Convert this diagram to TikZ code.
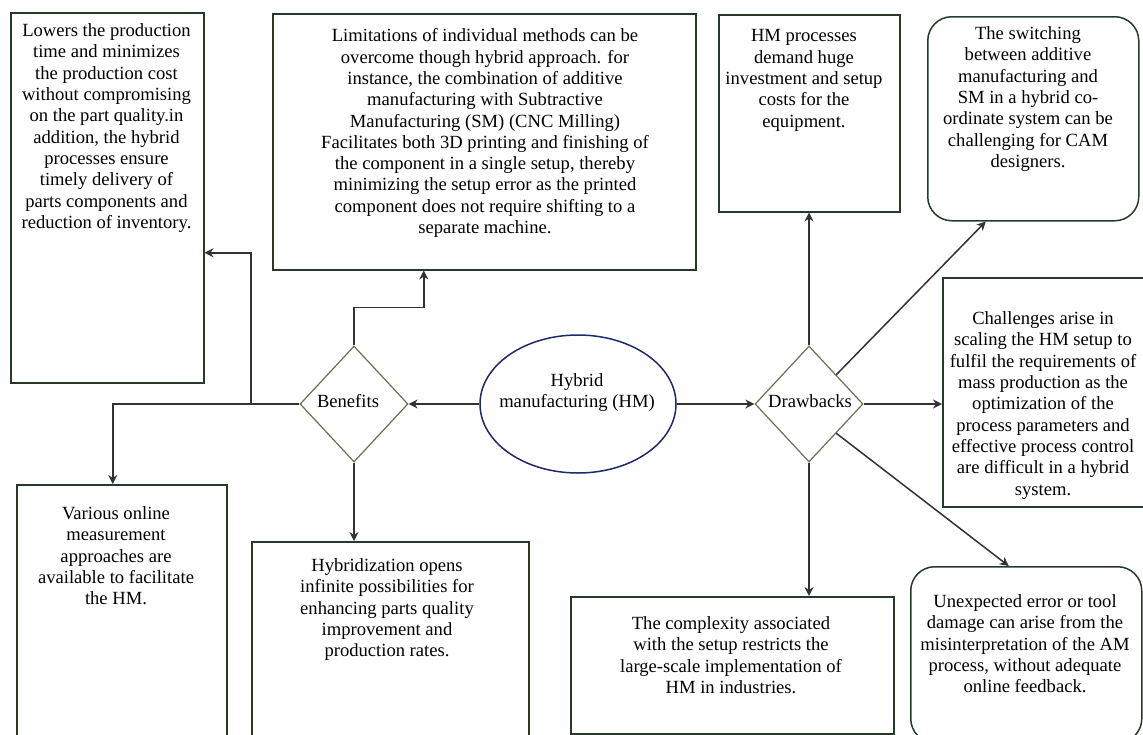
\documentclass[tikz,border=0pt]{standalone}
\usepackage{fontspec}
\setmainfont{Liberation Serif}
\usetikzlibrary{shapes.geometric,arrows.meta,calc}
\definecolor{boxline}{RGB}{38,58,42}
\definecolor{diaml}{RGB}{110,110,80}
\definecolor{ellline}{RGB}{30,40,110}
\definecolor{conn}{RGB}{50,50,50}

\begin{document}
\begin{tikzpicture}[x=1pt,y=-1pt,
  panel/.style={draw=boxline, line width=1.5pt, rectangle, anchor=north west, inner sep=0pt},
  roundpanel/.style={panel, rounded corners=24pt},
  body/.style={anchor=north, inner sep=0pt, align=center, font=\fontsize{18.6}{21.3}\selectfont},
  decision/.style={diamond, draw=diaml, line width=1.2pt, minimum width=108pt, minimum height=116pt, inner sep=0pt},
  arr/.style={draw=conn, line width=1.5pt, -{Stealth[length=9pt,width=9pt]}},
  link/.style={draw=conn, line width=1.5pt},
]
\useasboundingbox (0,0) rectangle (1143,734);
\clip (0,0) rectangle (1143,734);

% outer panels
\node[panel, minimum width=193pt, minimum height=370pt] (A) at (10,12) {};
\node[panel, minimum width=423pt, minimum height=256pt] (B) at (272,13) {};
\node[panel, minimum width=181pt, minimum height=197pt] (C) at (718,14) {};
\node[roundpanel, minimum width=211pt, minimum height=204pt] (D) at (927,16) {};
\node[panel, minimum width=203pt, minimum height=229pt] (E) at (942,277) {};
\node[panel, minimum width=210pt, minimum height=270pt] (F) at (16,484) {};
\node[panel, minimum width=277pt, minimum height=210pt] (G) at (251,541) {};
\node[panel, minimum width=323pt, minimum height=137pt] (H) at (570,596) {};
\node[roundpanel, minimum width=231pt, minimum height=176pt] (I) at (910,566) {};

% panel texts
\node[body] (tA) at (106.5,23.5) {Lowers the production\\time and minimizes\\the production cost\\without compromising\\on the part quality.in\\addition, the hybrid\\processes ensure\\timely delivery of\\parts components and\\reduction of inventory.};
\node[body] (tB) at (485,28.5) {Limitations of individual methods can be\\overcome though hybrid approach. for\\instance, the combination of additive\\manufacturing with Subtractive\\Manufacturing (SM) (CNC Milling)\\Facilitates both 3D printing and finishing of\\the component in a single setup, thereby\\minimizing the setup error as the printed\\component does not require shifting to a\\separate machine.};
\node[body] (tC) at (804,29.5) {HM processes\\demand huge\\investment and setup\\costs for the\\equipment.};
\node[body] (tD) at (1028,26.5) {The switching\\between additive\\manufacturing and\\SM in a hybrid co-\\ordinate system can be\\challenging for CAM\\designers.};
\node[body] (tE) at (1043,311.5) {Challenges arise in\\scaling the HM setup to\\fulfil the requirements of\\mass production as the\\optimization of the\\process parameters and\\effective process control\\are difficult in a hybrid\\system.};
\node[body] (tF) at (116,506.5) {Various online\\measurement\\approaches are\\available to facilitate\\the HM.};
\node[body] (tG) at (387,558.5) {Hybridization opens\\infinite possibilities for\\enhancing parts quality\\improvement and\\production rates.};
\node[body] (tH) at (731,616.5) {The complexity associated\\with the setup restricts the\\large-scale implementation of\\HM in industries.};
\node[body] (tI) at (1025,594.5) {Unexpected error or tool\\damage can arise from the\\misinterpretation of the AM\\process, without adequate\\online feedback.};

% central nodes
\node[ellipse, draw=ellline, line width=1.5pt, minimum width=196pt, minimum height=138pt, inner sep=0pt] (hm) at (578,404) {};
\node[body] (thm) at (577,373.5) {Hybrid\\manufacturing (HM)};
\node[decision] (ben) at (354,404) {};
\node[font=\fontsize{18.6}{21.3}\selectfont, inner sep=0pt] (tben) at (348,401) {Benefits};
\node[decision] (drw) at (809,404) {};
\node[font=\fontsize{18.6}{21.3}\selectfont, inner sep=0pt] (tdrw) at (810,401) {Drawbacks};

% connectors
\draw[arr] (hm.west) -- (ben.east);
\draw[arr] (hm.east) -- (drw.west);

\coordinate (jn) at (251,404);
\draw[link] (ben.west) -- (jn);
\draw[arr] (jn) |- ([yshift=-55pt]A.east);
\draw[arr] (jn) -| ([xshift=-9pt]F.north);
\draw[arr] (ben.north) -- ++(0,-38) -| ([xshift=-60.5pt]B.south);
\draw[arr] (ben.south) -- (ben.south |- G.north);

\draw[arr] (drw.north) -- (drw.north |- C.south);
\draw[arr] (drw.north east) -- ([xshift=-47.5pt]D.south);
\draw[arr] (drw.east) -- (drw.east -| E.west);
\draw[arr] (drw.south east) -- ([xshift=-17.5pt]I.north);
\draw[arr] (drw.south) -- (drw.south |- H.north);
\end{tikzpicture}
\end{document}
